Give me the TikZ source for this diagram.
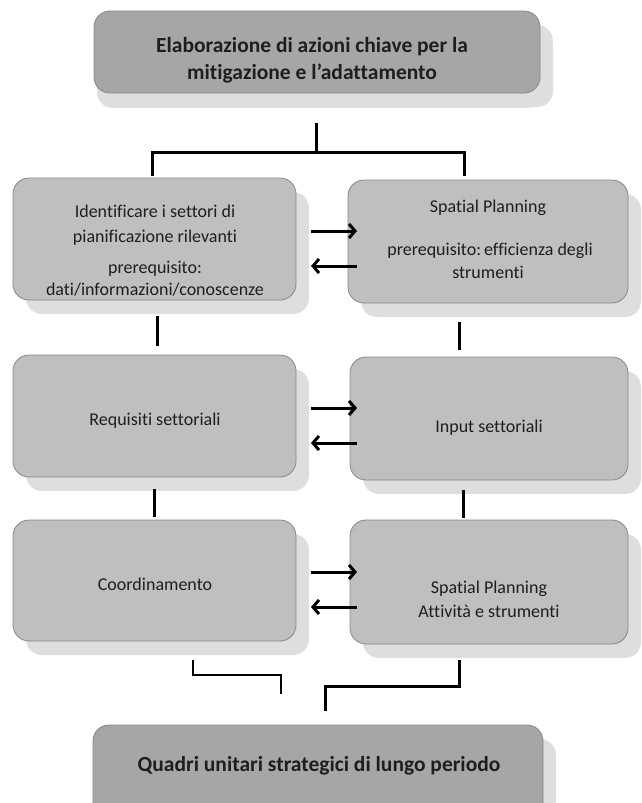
\documentclass[tikz,border=0pt]{standalone}
\usepackage{fontspec}
\setmainfont{Carlito}[Ligatures=NoCommon]
\usetikzlibrary{shadows,arrows.meta}
\definecolor{boxfill}{RGB}{191,191,191}
\definecolor{darkfill}{RGB}{166,166,166}
\definecolor{shadowc}{RGB}{222,222,222}
\definecolor{edgec}{RGB}{135,135,135}
\definecolor{txtc}{RGB}{30,30,30}
\begin{document}
\begin{tikzpicture}[x=1pt,y=-1pt,
  box/.style={draw=edgec, line width=0.8pt, fill=boxfill, rounded corners=16pt, inner sep=0pt,
    drop shadow={shadow xshift=13pt, shadow yshift=-14pt, fill=shadowc, opacity=1}},
  darkbox/.style={box, fill=darkfill,
    drop shadow={shadow xshift=3pt, shadow yshift=-15pt, fill=shadowc, opacity=1}},
  lbl/.style={font=\fontsize{18}{22}\selectfont, text=txtc, anchor=base, inner sep=0pt},
  blbl/.style={lbl, font=\fontsize{21.5}{26}\selectfont\bfseries},
  conn/.style={line width=3pt, black},
  thinconn/.style={line width=2pt, black},
  arr/.style={line width=3pt, black, -{Straight Barb[length=6pt,width=14pt]}}
]
\useasboundingbox (0,0) rectangle (642,803);

% boxes
\node[darkbox, minimum width=446pt, minimum height=82pt] (top) at (317,52) {};
\node[box, minimum width=283pt, minimum height=122pt] (r1l) at (154.5,239) {};
\node[box, minimum width=280pt, minimum height=123pt] (r1r) at (488,241.5) {};
\node[box, minimum width=283pt, minimum height=122pt] (r2l) at (154.5,416) {};
\node[box, minimum width=278pt, minimum height=123pt] (r2r) at (489,418.5) {};
\node[box, minimum width=283pt, minimum height=121pt] (r3l) at (154.5,580.5) {};
\node[box, minimum width=278pt, minimum height=124pt] (r3r) at (489,582) {};
\node[darkbox, minimum width=450pt, minimum height=100pt] (bot) at (318,775) {};

% texts
\node[blbl] (t0a) at (312,52) {Elaborazione di azioni chiave per la};
\node[blbl] (t0b) at (312,79) {mitigazione e l’adattamento};

\node[lbl] (t1a) at (155,217) {Identificare i settori di};
\node[lbl] (t1b) at (155,242) {pianificazione rilevanti};
\node[lbl] (t1c) at (155,273) {prerequisito:};
\node[lbl] (t1d) at (155,295) {dati/informazioni/conoscenze};

\node[lbl] (t2a) at (488,212) {Spatial Planning};
\node[lbl] (t2b) at (490,255) {prerequisito:\,efficienza degli};
\node[lbl] (t2c) at (488,278) {strumenti};

\node[lbl] (t3) at (155,425) {Requisiti settoriali};
\node[lbl] (t4) at (489,432) {Input settoriali};

\node[lbl] (t5) at (155,590) {Coordinamento};
\node[lbl] (t6a) at (489,593) {Spatial Planning};
\node[lbl] (t6b) at (489,617) {Attività e strumenti};

\node[blbl] (t7) at (319,771) {Quadri unitari strategici di lungo periodo};

% connector coordinates
\coordinate (st0) at (316,123);
\coordinate (st1) at (316,152);
\coordinate (bl0) at (152,176);
\coordinate (bl1) at (152,152);
\coordinate (br1) at (464,152);
\coordinate (br0) at (464,176);

\coordinate (c1a) at (157,316);
\coordinate (c1b) at (157,346);
\coordinate (c2a) at (459,322);
\coordinate (c2b) at (459,350);
\coordinate (c3a) at (154,489);
\coordinate (c3b) at (154,517);
\coordinate (c4a) at (463,490);
\coordinate (c4b) at (463,518);

\coordinate (d1) at (193,660);
\coordinate (d2) at (193,675);
\coordinate (d3) at (281,675);
\coordinate (d4) at (281,694);
\coordinate (e1) at (459,660);
\coordinate (e2) at (459,686);
\coordinate (e3) at (325,686);
\coordinate (e4) at (325,711);

\draw[conn] (st0) -- (st1);
\draw[conn] (bl0) -- (bl1) -- (br1) -- (br0);
\draw[conn] (c1a) -- (c1b);
\draw[conn] (c2a) -- (c2b);
\draw[conn] (c3a) -- (c3b);
\draw[conn] (c4a) -- (c4b);
\draw[thinconn] (d1) -- (d2) -- (d3) -- (d4);
\draw[conn] (e1) -- (e2) -- (e3) -- (e4);

% arrows
\coordinate (a1s) at (311,231);
\coordinate (a1e) at (357,231);
\coordinate (a2s) at (357,266);
\coordinate (a2e) at (311,266);
\coordinate (a3s) at (311,408);
\coordinate (a3e) at (357,408);
\coordinate (a4s) at (357,443);
\coordinate (a4e) at (311,443);
\coordinate (a5s) at (311,572);
\coordinate (a5e) at (357,572);
\coordinate (a6s) at (357,607);
\coordinate (a6e) at (311,607);
\draw[arr] (a1s) -- (a1e);
\draw[arr] (a2s) -- (a2e);
\draw[arr] (a3s) -- (a3e);
\draw[arr] (a4s) -- (a4e);
\draw[arr] (a5s) -- (a5e);
\draw[arr] (a6s) -- (a6e);
\end{tikzpicture}
\end{document}
